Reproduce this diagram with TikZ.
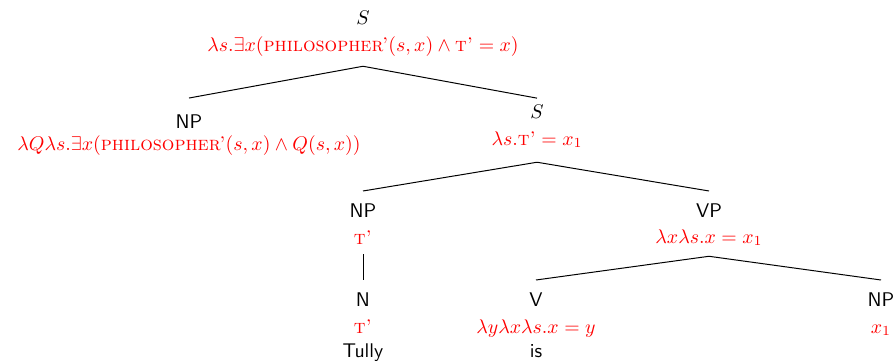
\documentclass[tikz,border=0pt]{standalone}
\usepackage{amsmath,amssymb}
\usepackage{tikz}
\usetikzlibrary{positioning}
\definecolor{semred}{RGB}{255,0,0}
\tikzset{
  cat/.style={font=\sffamily, anchor=base, inner xsep=0pt, inner ysep=6pt},
  sem/.style={text=semred, anchor=base, inner xsep=0pt, inner ysep=5pt},
  word/.style={font=\sffamily, anchor=base, inner sep=0pt},
  branch/.style={line width=0.5pt, black},
}

\begin{document}
\begin{tikzpicture}[x=0.505pt, y=-0.505pt]
    \useasboundingbox (0,0) rectangle (896,361);
    % root
    \node[cat] (s0) at (363,24) {$S$};
    \node[sem] (s0sem) at (363,51)
      {$\lambda s.\exists x(\textsc{philosopher'}(s,x)\wedge\textsc{t'}=x)$};
    % subject NP
    \node[cat, inner ysep=8pt] (np1) at (189,128) {NP};
    \node[sem] (np1sem) at (189,150)
      {$\lambda Q\lambda s.\exists x(\textsc{philosopher'}(s,x)\wedge Q(s,x))$};
    % inner S
    \node[cat, inner ysep=3pt] (s2) at (537,118) {$S$};
    \node[sem, inner ysep=7pt] (s2sem) at (537,145) {$\lambda s.\textsc{t'}=x_1$};
    \draw[branch] (s0sem.south) -- (np1.north);
    \draw[branch] (s0sem.south) -- (s2.north);
    % NP Tully
    \node[cat] (np2) at (363,217) {NP};
    \node[sem] (np2sem) at (363,244) {$\textsc{t'}$};
    \node[cat] (n) at (363,306) {N};
    \node[sem] (nsem) at (363,333) {$\textsc{t'}$};
    \node[word] (tully) at (363,357) {Tully};
    \draw[branch] (np2sem.south) -- (n.north);
    % VP
    \node[cat] (vp) at (709,217) {VP};
    \node[sem] (vpsem) at (709,243) {$\lambda x\lambda s.x=x_1$};
    \draw[branch] (s2sem.south) -- (np2.north);
    \draw[branch] (s2sem.south) -- (vp.north);
    % V and object NP
    \node[cat] (v) at (536,306) {V};
    \node[sem] (vsem) at (536,333) {$\lambda y\lambda x\lambda s.x=y$};
    \node[word] (is) at (536,357) {is};
    \node[cat] (np3) at (881,306) {NP};
    \node[sem] (np3sem) at (881,333) {$x_1$};
    \draw[branch] (vpsem.south) -- (v.north);
    \draw[branch] (vpsem.south) -- (np3.north);
  \end{tikzpicture}
\end{document}
